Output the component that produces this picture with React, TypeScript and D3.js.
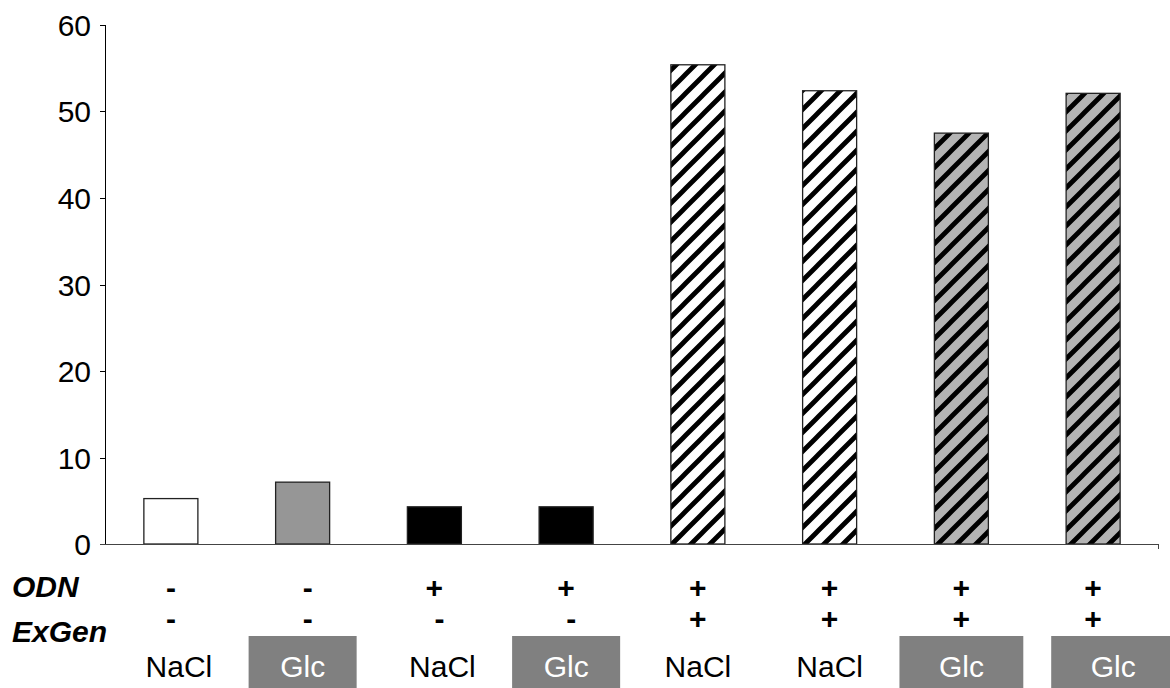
import React from "react";
import * as d3 from "d3";

// values
const salts = ["NaCl", "Glc", "NaCl", "Glc", "NaCl", "NaCl", "Glc", "Glc"];
const odn = ["-", "-", "+", "+", "+", "+", "+", "+"];
const exgen = ["-", "-", "-", "-", "+", "+", "+", "+"];
const values = [5.25, 7.15, 4.3, 4.3, 55.4, 52.4, 47.5, 52.1];
const yTicks = [0, 10, 20, 30, 40, 50, 60];

const width = 1170;
const height = 688;
const font = "'Liberation Sans', Arial, sans-serif";
const fs = 30;
const hatch = 19;

function barFill(i: number) {
  if (exgen[i] === "+") return salts[i] === "Glc" ? "url(#hatchGray)" : "url(#hatchWhite)";
  if (odn[i] === "+") return "#000";
  return salts[i] === "Glc" ? "#969696" : "#fff";
}

export default function App() {
  const idx = values.map((_, i) => i);

  const x = d3
    .scaleBand<number>()
    .domain(idx)
    .range([105, 1159])
    .paddingInner(0.59)
    .paddingOuter(0.295);

  const y = d3.scaleLinear().domain([0, 60]).range([544, 25]);

  const center = (i: number) => (x(i) as number) + x.bandwidth() / 2;
  const step = x.step();

  // grey label boxes under the Glc columns
  const boxW = (i: number) => (i < 4 ? step * 0.82 : step * 0.94);
  const boxShift = (i: number) => (i === 7 ? 20 : 0);
  const labelShift = (i: number) => boxShift(i) + (salts[i] === "NaCl" && i < 4 ? 8 : 0);

  return (
    <div style={{ position: "absolute", left: 0, top: 0 }}>
      <svg width={width} height={height} style={{ display: "block" }}>
        <defs>
          {[
            { id: "hatchWhite", bg: "#fff" },
            { id: "hatchGray", bg: "#b4b4b4" },
          ].map((p) => (
            <pattern key={p.id} id={p.id} patternUnits="userSpaceOnUse" width={hatch} height={hatch}>
              <rect width={hatch} height={hatch} fill={p.bg} />
              <path
                d={`M${-hatch / 4},${hatch / 4} l${hatch / 2},${-hatch / 2} M0,${hatch} l${hatch},${-hatch} M${(hatch * 3) / 4},${(hatch * 5) / 4} l${hatch / 2},${-hatch / 2}`}
                stroke="#000"
                strokeWidth={4.8}
              />
            </pattern>
          ))}
        </defs>

        {/* y axis */}
        <line x1={105.5} x2={105.5} y1={y(60)} y2={y(0)} stroke="#000" />
        {yTicks.map((t) => (
          <g key={t} transform={`translate(0,${Math.round(y(t)) + 0.5})`}>
            <line x1={100} x2={105} stroke="#000" />
            <text
              x={91}
              dy="0.35em"
              textAnchor="end"
              fontFamily={font}
              fontSize={fs}
              fill="#000"
            >
              {t}
            </text>
          </g>
        ))}

        {/* bars */}
        {idx.map((i) => (
          <rect
            key={i}
            x={x(i)}
            y={y(values[i])}
            width={x.bandwidth()}
            height={y(0) - y(values[i])}
            fill={barFill(i)}
            stroke="#222"
            strokeWidth={1.3}
          />
        ))}

        {/* x axis */}
        <line x1={100} x2={1159} y1={544.5} y2={544.5} stroke="#444" />
        <line x1={1158.5} x2={1158.5} y1={544} y2={549} stroke="#444" />

        {/* row labels */}
        <text x={12} y={597} fontFamily={font} fontSize={fs} fontWeight="bold" fontStyle="italic">
          ODN
        </text>
        <text x={12} y={642} fontFamily={font} fontSize={fs} fontWeight="bold" fontStyle="italic">
          ExGen
        </text>

        {idx.map((i) => (
          <g key={i}>
            <text
              x={center(i) + (odn[i] === "-" && i === 1 ? 5 : 0)}
              y={587}
              dy="0.35em"
              textAnchor="middle"
              fontFamily={font}
              fontSize={fs}
              fontWeight="bold"
            >
              {odn[i]}
            </text>
            <text
              x={center(i) + (exgen[i] === "-" && i > 0 ? 5 : 0)}
              y={618}
              dy="0.35em"
              textAnchor="middle"
              fontFamily={font}
              fontSize={fs}
              fontWeight="bold"
            >
              {exgen[i]}
            </text>
            {salts[i] === "Glc" && (
              <rect
                x={center(i) - boxW(i) / 2 + boxShift(i)}
                y={636}
                width={boxW(i)}
                height={60}
                fill="#808080"
              />
            )}
            <text
              x={center(i) + labelShift(i)}
              y={677}
              textAnchor="middle"
              fontFamily={font}
              fontSize={fs}
              fill={salts[i] === "Glc" ? "#fff" : "#000"}
            >
              {salts[i]}
            </text>
          </g>
        ))}
      </svg>
    </div>
  );
}
